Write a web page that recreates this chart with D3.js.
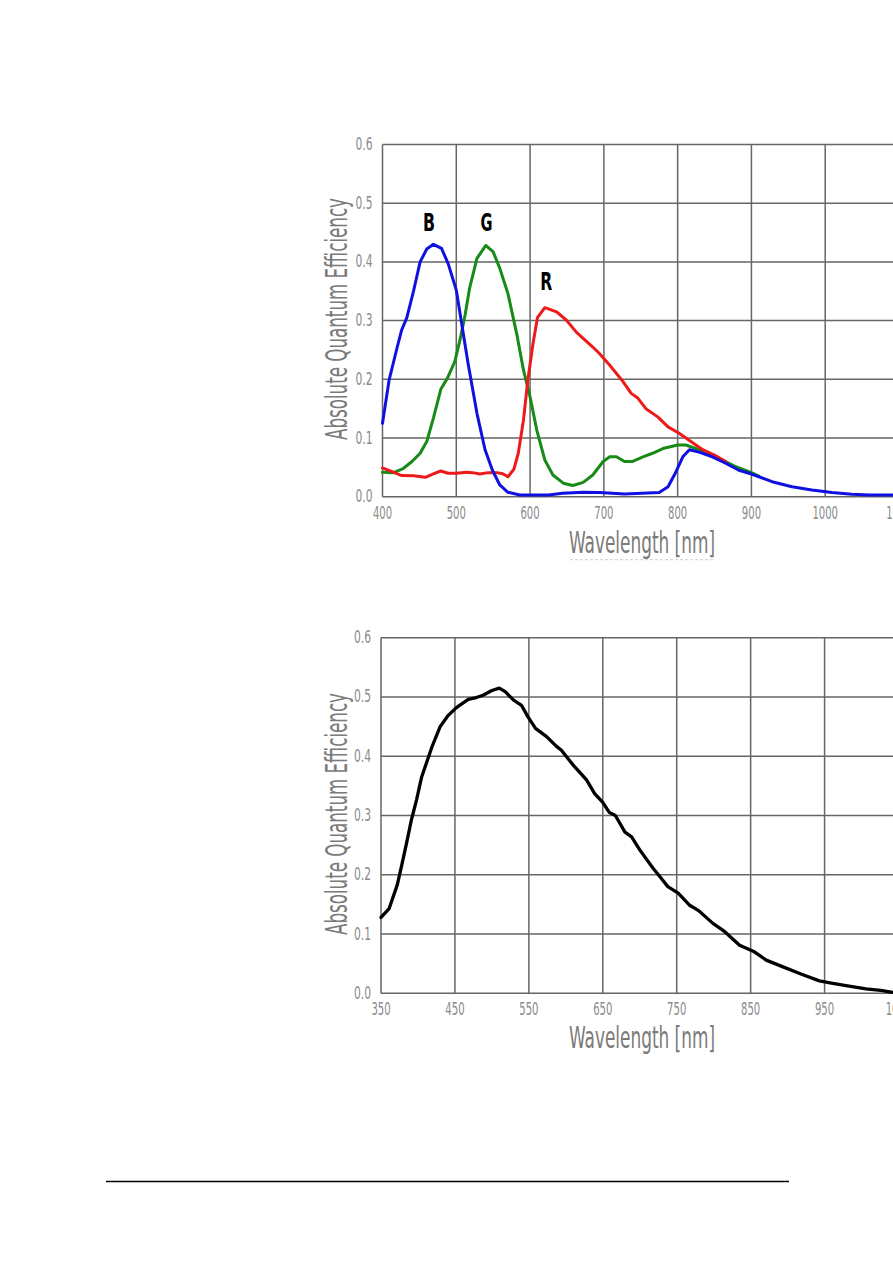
<!DOCTYPE html>
<html>
<head>
<meta charset="utf-8">
<script src="https://cdn.jsdelivr.net/npm/d3@7"></script>
<style>
  html, body { margin: 0; padding: 0; background: #fff; }
  svg { display: block; }
  .tick-label { font-family: "Liberation Sans Narrow", "DejaVu Sans Condensed", "Liberation Sans", sans-serif; fill: #8a8a8a; font-size: 17px; }
  .axis-title { font-family: "Liberation Sans Narrow", "DejaVu Sans Condensed", "Liberation Sans", sans-serif; fill: #7a7a7a; font-size: 31px; }
  .curve-label { font-family: "Liberation Sans Narrow", "DejaVu Sans Condensed", "Liberation Sans", sans-serif; fill: #000; font-size: 24px; font-weight: 600; }
</style>
</head>
<body>
<script>
// ---------- DATA ----------
// Top chart (RGB sensor): x ticks, y ticks
const topXTicks = [400, 500, 600, 700, 800, 900, 1000, 1100];
const yTicks = [0.0, 0.1, 0.2, 0.3, 0.4, 0.5, 0.6];

const blueSeries = [[400,0.125],[409,0.199],[420,0.255],[426,0.284],[433,0.305],[442,0.35],[451,0.40],[460,0.422],[469,0.43],[480,0.423],[489,0.397],[500,0.352],[506,0.305],[516,0.227],[528,0.142],[539,0.08],[549,0.045],[559,0.02],[570,0.0075],[586,0.003],[625,0.003],[644,0.006],[672,0.0075],[694,0.007],[728,0.0046],[775,0.007],[787,0.017],[798,0.043],[807,0.068],[816,0.08],[829,0.076],[847,0.068],[865,0.057],[883,0.045],[899,0.039],[910,0.034],[928,0.0256],[955,0.017],[982,0.0114],[1009,0.007],[1036,0.004],[1060,0.003],[1100,0.003]];

const greenSeries = [[400,0.0415],[415,0.041],[428,0.048],[440,0.06],[451,0.074],[460,0.094],[469,0.134],[479,0.183],[488,0.202],[498,0.23],[505,0.267],[512,0.31],[518,0.355],[528,0.406],[540,0.428],[550,0.417],[559,0.389],[570,0.346],[582,0.277],[591,0.216],[600,0.17],[609,0.114],[620,0.0625],[631,0.037],[645,0.023],[658,0.019],[672,0.0245],[685,0.037],[699,0.06],[708,0.068],[717,0.068],[728,0.06],[739,0.06],[753,0.068],[766,0.074],[780,0.082],[800,0.088],[811,0.088],[825,0.082],[843,0.074],[861,0.0625],[879,0.051],[900,0.041],[910,0.035]];

const redSeries = [[400,0.049],[413,0.0426],[426,0.036],[442,0.0355],[458,0.033],[469,0.0387],[479,0.0438],[489,0.04],[500,0.04],[514,0.0415],[522,0.041],[532,0.0387],[543,0.041],[555,0.041],[563,0.039],[570,0.034],[578,0.0467],[584,0.074],[591,0.13],[597,0.199],[604,0.261],[610,0.305],[620,0.322],[636,0.315],[649,0.301],[663,0.28],[685,0.255],[694,0.244],[708,0.224],[726,0.196],[737,0.176],[746,0.168],[757,0.15],[773,0.136],[787,0.119],[802,0.108],[818,0.094],[834,0.08],[850,0.071],[865,0.06]];

const curveLabels = ["B", "G", "R"];
const curveLabelPos = [[463, 0.452], [541, 0.452], [622, 0.352]];

// Bottom chart (mono sensor)
const bottomXTicks = [350, 450, 550, 650, 750, 850, 950, 1050];
const monoSeries = [[350,0.128],[361,0.143],[372,0.183],[378,0.216],[385,0.256],[391,0.292],[398,0.326],[405,0.365],[419,0.416],[430,0.45],[441,0.469],[452,0.482],[468,0.496],[479,0.499],[488,0.503],[500,0.511],[510,0.515],[518,0.509],[529,0.495],[540,0.486],[549,0.466],[559,0.447],[574,0.433],[587,0.417],[594,0.41],[610,0.385],[628,0.36],[639,0.337],[650,0.322],[659,0.305],[667,0.3],[680,0.272],[689,0.264],[700,0.242],[718,0.211],[729,0.194],[738,0.18],[752,0.169],[767,0.149],[779,0.14],[799,0.118],[815,0.104],[835,0.081],[855,0.07],[871,0.056],[893,0.045],[918,0.0325],[943,0.021],[961,0.0169],[979,0.0128],[1006,0.0073],[1026,0.005],[1042,0.0017],[1050,0.001]];

const yTitle = "Absolute Quantum Efficiency";
const xTitle = "Wavelength [nm]";

// ---------- DRAW ----------
const W = 893, H = 1263;
const svg = d3.select("body").append("svg").attr("width", W).attr("height", H);

function drawChart(cfg) {
  const x = d3.scaleLinear().domain(cfg.xDomain).range([cfg.left, cfg.right]);
  const y = d3.scaleLinear().domain([0, 0.6]).range([cfg.bottom, cfg.top]);
  const g = svg.append("g");

  // grid
  g.append("g").selectAll("line").data(cfg.xTicks).join("line")
    .attr("x1", d => x(d)).attr("x2", d => x(d))
    .attr("y1", y(0)).attr("y2", y(0.6))
    .attr("stroke", "#666").attr("stroke-width", 1.5);
  g.append("g").selectAll("line").data(yTicks).join("line")
    .attr("x1", x(cfg.xDomain[0])).attr("x2", x(cfg.xDomain[1]))
    .attr("y1", d => y(d)).attr("y2", d => y(d))
    .attr("stroke", "#666").attr("stroke-width", 1.5);

  // tick labels
  g.append("g").selectAll("text").data(yTicks).join("text")
    .attr("class", "tick-label")
    .attr("x", x(cfg.xDomain[0]) - 10).attr("y", d => y(d) + 5.5)
    .attr("text-anchor", "end")
    .attr("textLength", 17).attr("lengthAdjust", "spacingAndGlyphs")
    .text(d => d3.format(".1f")(d));
  g.append("g").selectAll("text").data(cfg.xTicks).join("text")
    .attr("class", "tick-label")
    .attr("x", d => x(d)).attr("y", y(0) + 22)
    .attr("text-anchor", "middle")
    .attr("textLength", d => String(d).length * 6.4).attr("lengthAdjust", "spacingAndGlyphs")
    .text(d => d);

  // axis titles
  const yc = cfg.yTitleCenter;
  g.append("text").attr("class", "axis-title")
    .attr("transform", `translate(347,${yc}) rotate(-90)`)
    .attr("text-anchor", "middle")
    .attr("textLength", 242).attr("lengthAdjust", "spacingAndGlyphs")
    .text(yTitle);
  g.append("text").attr("class", "axis-title")
    .attr("x", 642).attr("y", y(0) + cfg.xTitleDy)
    .attr("text-anchor", "middle")
    .attr("textLength", 146).attr("lengthAdjust", "spacingAndGlyphs")
    .text(xTitle);
  if (cfg.dashUnder) {
    g.append("line").attr("x1", 570).attr("x2", 715)
      .attr("y1", y(0) + cfg.xTitleDy + 7).attr("y2", y(0) + cfg.xTitleDy + 7)
      .attr("stroke", "#d0d0d0").attr("stroke-width", 1).attr("stroke-dasharray", "3,2");
  }

  // curves
  const line = d3.line().x(d => x(d[0])).y(d => y(d[1]));
  cfg.series.forEach(s => {
    g.append("path").datum(s.data)
      .attr("d", line)
      .attr("fill", "none").attr("stroke", s.color)
      .attr("stroke-width", s.width).attr("stroke-linejoin", "round").attr("stroke-linecap", "round");
  });

  if (cfg.labels) {
    g.append("g").selectAll("text").data(cfg.labels).join("text")
      .attr("class", "curve-label")
      .attr("x", d => x(d.pos[0])).attr("y", d => y(d.pos[1]))
      .attr("text-anchor", "middle")
      .attr("textLength", 12).attr("lengthAdjust", "spacingAndGlyphs")
      .text(d => d.text);
  }
}

drawChart({
  xDomain: [400, 1100], xTicks: topXTicks,
  left: 382.5, right: 899, top: 144.5, bottom: 496.7,
  yTitleCenter: 319, xTitleDy: 56, dashUnder: true,
  series: [
    { data: greenSeries, color: "#178a17", width: 3 },
    { data: redSeries, color: "#ee1a1a", width: 3 },
    { data: blueSeries, color: "#1010e0", width: 3 }
  ],
  labels: curveLabels.map((t, i) => ({ text: t, pos: curveLabelPos[i] }))
});

drawChart({
  xDomain: [350, 1050], xTicks: bottomXTicks,
  left: 381, right: 898.5, top: 637.7, bottom: 993.3,
  yTitleCenter: 814, xTitleDy: 55, dashUnder: false,
  series: [ { data: monoSeries, color: "#000", width: 3.3 } ]
});

// footer rule
svg.append("line").attr("x1", 106).attr("x2", 789).attr("y1", 1181.5).attr("y2", 1181.5)
  .attr("stroke", "#000").attr("stroke-width", 1.5);
</script>
</body>
</html>
